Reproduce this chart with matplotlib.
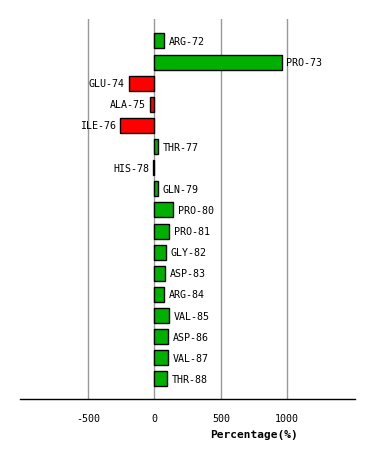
import matplotlib
matplotlib.use("Agg")
import matplotlib.pyplot as plt

# residues and percentage change
residues = ["ARG-72", "PRO-73", "GLU-74", "ALA-75", "ILE-76", "THR-77", "HIS-78",
            "GLN-79", "PRO-80", "PRO-81", "GLY-82", "ASP-83", "ARG-84", "VAL-85",
            "ASP-86", "VAL-87", "THR-88"]
percent = [75, 960, -193, -30, -256, 30, -8,
           30, 143, 113, 90, 83, 75, 113,
           105, 105, 98]
xticks = [-500, 0, 500, 1000]

GREEN = "#00b000"
RED = "#ff0000"
MONO = "DejaVu Sans Mono"

fig = plt.figure(figsize=(3.74, 4.60), dpi=100)
ax = fig.add_axes([20 / 374, 60 / 460, 335 / 374, 380 / 460])

pos = list(range(len(residues)))
colors = [GREEN if v >= 0 else RED for v in percent]
ax.barh(pos, percent, height=0.71, color=colors, edgecolor="black", linewidth=1, zorder=3)

for p, v, name in zip(pos, percent, residues):
    if v >= 0:
        ax.text(v + 32, p, name, ha="left", va="center", fontsize=7.2, family=MONO, zorder=4)
    else:
        ax.text(v - 32, p, name, ha="right", va="center", fontsize=7.2, family=MONO, zorder=4)

ax.set_xlim(-1012, 1510)
ax.set_ylim(len(residues) - 0.05, -1.04)
ax.set_yticks([])
ax.set_xticks(xticks)
ax.set_xticklabels([str(t) for t in xticks], family=MONO, fontsize=7.2)
ax.tick_params(axis="x", length=0, pad=10)
for t in xticks:
    ax.axvline(t, color="#999999", lw=1, zorder=1)

for s in ("top", "right", "left"):
    ax.spines[s].set_visible(False)
ax.spines["bottom"].set_linewidth(1)

ax.set_xlabel("Percentage(%)", family=MONO, fontsize=8, fontweight="bold")
ax.xaxis.set_label_coords(0.70, -0.078)

fig.savefig("out.png", dpi=100, facecolor="white")
